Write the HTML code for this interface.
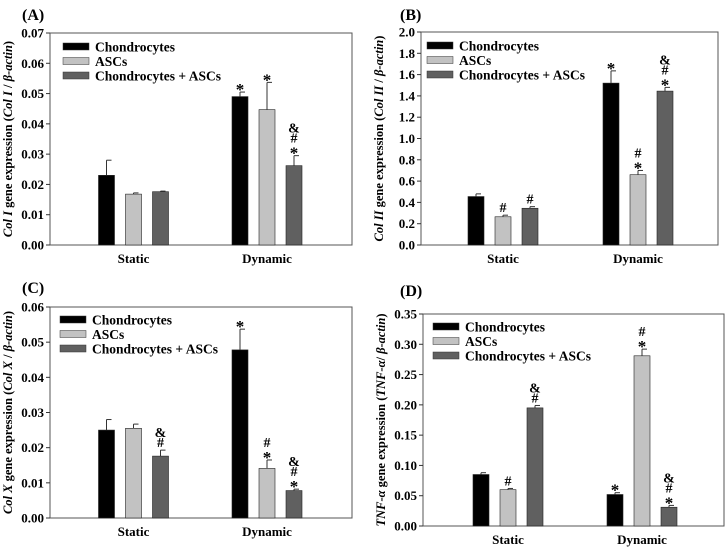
<!DOCTYPE html>
<html><head><meta charset="utf-8"><style>
body{margin:0;background:#fff;}
svg{display:block;font-family:"Liberation Serif",serif;}
text{font-weight:bold;}
</style></head><body>
<svg id="fig" width="728" height="550" viewBox="0 0 728 550" xmlns="http://www.w3.org/2000/svg"></svg>
<script>
const categories=["Static","Dynamic"];
const seriesNames=["Chondrocytes","ASCs","Chondrocytes + ASCs"];
const colors=["#000000","#c2c2c2","#606060"];
// Panel A
const aStatic=[0.023,0.0168,0.0176];
const aStaticErr=[0.005,0.0004,0.0002];
const aDynamic=[0.049,0.0447,0.0262];
const aDynamicErr=[0.0015,0.009,0.0033];
const aTicks=["0.00","0.01","0.02","0.03","0.04","0.05","0.06","0.07"];
const aAnn=[["","",""],["*","*","*#&"]];
// Panel B
const bStatic=[0.455,0.265,0.345];
const bStaticErr=[0.025,0.015,0.015];
const bDynamic=[1.52,0.66,1.445];
const bDynamicErr=[0.115,0.04,0.035];
const bTicks=["0.0","0.2","0.4","0.6","0.8","1.0","1.2","1.4","1.6","1.8","2.0"];
const bAnn=[["","#","#"],["*","*#","*#&"]];
// Panel C
const cStatic=[0.025,0.0255,0.0176];
const cStaticErr=[0.003,0.0012,0.0017];
const cDynamic=[0.0478,0.0141,0.0078];
const cDynamicErr=[0.0059,0.0024,0.0004];
const cTicks=["0.00","0.01","0.02","0.03","0.04","0.05","0.06"];
const cAnn=[["","","#&"],["*","*#","*#&"]];
// Panel D
const dStatic=[0.085,0.060,0.195];
const dStaticErr=[0.003,0.002,0.004];
const dDynamic=[0.052,0.281,0.031];
const dDynamicErr=[0.003,0.011,0.003];
const dTicks=["0.00","0.05","0.10","0.15","0.20","0.25","0.30","0.35"];
const dAnn=[["","#","#&"],["*","*#","*#&"]];

const NS="http://www.w3.org/2000/svg";
const svg=document.getElementById('fig');
function mk(tag,attrs,parent){const e=document.createElementNS(NS,tag);for(const k in attrs)e.setAttribute(k,attrs[k]);(parent||svg).appendChild(e);return e;}

const panels=[
 {id:"a",label:"(A)",lx:22,ly:20,L:50,R:352,T:33,B:245,c0:133.5,c1:267,bw:16,lgx:63,lgy:47,title:["Col I"," gene expression (","Col I"," / ","β-actin",")"],st:aStatic,se:aStaticErr,dy:aDynamic,de:aDynamicErr,ticks:aTicks,ann:aAnn},
 {id:"b",label:"(B)",lx:400,ly:20,L:421,R:718,T:32,B:245,c0:503,c1:638,bw:16,lgx:427,lgy:46,title:["Col II"," gene expression (","Col II"," / ","β-actin",")"],st:bStatic,se:bStaticErr,dy:bDynamic,de:bDynamicErr,ticks:bTicks,ann:bAnn},
 {id:"c",label:"(C)",lx:22,ly:293,L:50,R:352,T:307,B:518,c0:133.5,c1:267,bw:16,lgx:60,lgy:320,title:["Col X"," gene expression (","Col X"," / ","β-actin",")"],st:cStatic,se:cStaticErr,dy:cDynamic,de:cDynamicErr,ticks:cTicks,ann:cAnn},
 {id:"d",label:"(D)",lx:400,ly:296,L:423,R:724,T:314,B:526,c0:508,c1:642,bw:16,lgx:433,lgy:327,title:["TNF-α"," gene expression (","TNF-α","/ ","β-actin",")"],st:dStatic,se:dStaticErr,dy:dDynamic,de:dDynamicErr,ticks:dTicks,ann:dAnn}
];

panels.forEach(p=>{
 const g=mk('g',{});
 
 
 const maxV=parseFloat(p.ticks[p.ticks.length-1]);
 const y=v=>p.B-(v/maxV)*(p.B-p.T);
 const lab=mk('text',{x:p.lx,y:p.ly,'font-size':16},g);lab.textContent=p.label;
 
 const frame=mk('rect',{x:p.L,y:p.T,width:p.R-p.L,height:p.B-p.T,fill:'none',stroke:'#555','stroke-width':1},g);
 
 p.ticks.forEach(t=>{
  const v=parseFloat(t),yy=y(v);
  mk('line',{x1:p.L-4,x2:p.L,y1:yy,y2:yy,stroke:'#333'},g);
  const tx=mk('text',{x:p.L-6,y:yy+4.5,'font-size':13,'text-anchor':'end'},g);tx.textContent=t;
  
 });
 const yt=mk('text',{'font-size':12.5,'text-anchor':'middle',transform:`translate(${p.L-38},${(p.T+p.B)/2}) rotate(-90)`},g);
 
 p.title.forEach((s,i)=>{const ts=mk('tspan',{},yt);if(i%2==0)ts.setAttribute('font-style','italic');ts.textContent=s;});
 const centers=[p.c0,p.c1];
 const groups=[[p.st,p.se],[p.dy,p.de]];
 categories.forEach((c,ci)=>{
  const cx=centers[ci];
  const xl=mk('text',{x:cx,y:p.B+18,'font-size':13,'text-anchor':'middle'},g);xl.textContent=c;
  
  groups[ci][0].forEach((v,si)=>{
   const bx=cx+(si-1)*27-p.bw/2;
   const yv=y(v),ye=y(v+groups[ci][1][si]);
   const bar=mk('rect',{x:bx,y:yv,width:p.bw,height:p.B-yv,fill:colors[si],stroke:'#222','stroke-width':0.6},g);
   
   mk('line',{x1:bx+p.bw/2,x2:bx+p.bw/2,y1:yv,y2:ye,stroke:'#333'},g);
   mk('line',{x1:bx+p.bw/2,x2:bx+p.bw/2+5,y1:ye,y2:ye,stroke:'#333'},g);
   const a=p.ann[ci][si];
   for(let k=0;k<a.length;k++){
    const at=mk('text',{x:bx+p.bw/2,y:ye-3-(k*10)+(a[k]=='*'?6:0),'font-size':a[k]=='*'?17:14,'font-weight':'normal','text-anchor':'middle'},g);
    at.textContent=a[k];
    
   }
  });
 });
 seriesNames.forEach((n,si)=>{
  const ly=p.lgy+si*14.5;
  const sw=mk('rect',{x:p.lgx,y:ly-4,width:26,height:7,fill:colors[si],stroke:'#333','stroke-width':0.5},g);
  
  const lt=mk('text',{x:p.lgx+32,y:ly+4.5,'font-size':13.5},g);lt.textContent=n;
  
 });
});
</script>
</body></html>
